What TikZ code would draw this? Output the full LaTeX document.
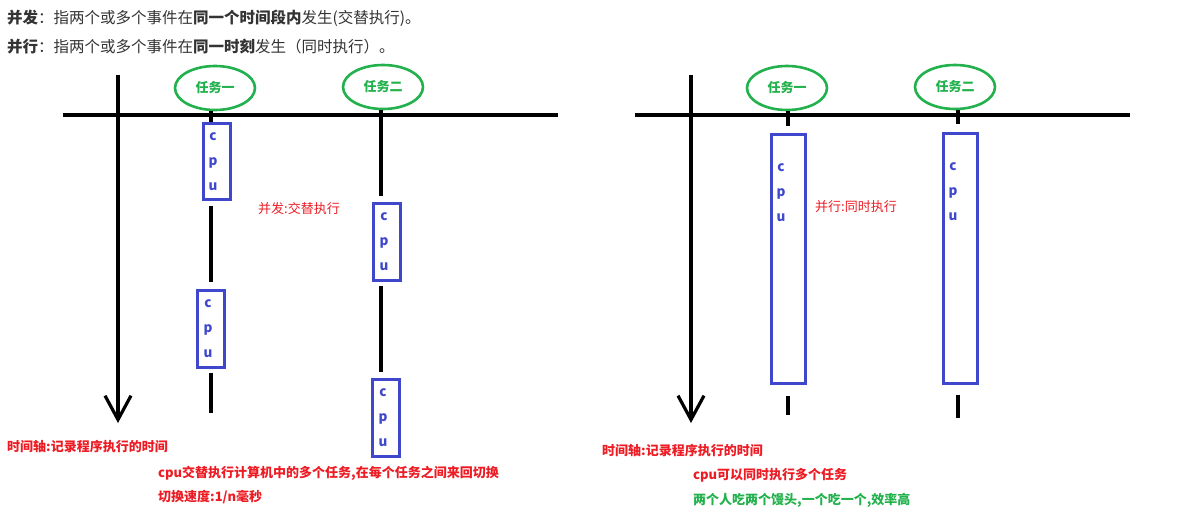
\documentclass[tikz,border=0pt]{standalone}
\usepackage{fontspec}
\setmainfont{Noto Sans CJK SC}
\usetikzlibrary{arrows.meta,shapes.geometric}

\definecolor{paintred}{HTML}{ED1C24}
\definecolor{paintgreen}{HTML}{22B14C}
\definecolor{paintblue}{HTML}{3F48CC}
\definecolor{headgray}{HTML}{333333}

\begin{document}
\begin{tikzpicture}[x=1pt,y=-1pt,
  axis/.style={line width=3.2pt,black},
  timearrow/.style={axis,-{Straight Barb[length=24pt,width=26pt]}},
  task/.style={ellipse,draw=paintgreen,line width=2.6pt,minimum width=80pt,minimum height=44pt,
    inner sep=0pt,text=paintgreen,font=\fontsize{13}{13}\selectfont\bfseries},
  cpubox/.style={draw=paintblue,line width=3pt,inner sep=0pt},
  cpu/.style={text=paintblue,font=\fontsize{13.5}{25}\selectfont\bfseries,align=center,inner sep=0pt},
  note/.style={anchor=west,inner sep=0pt,text=paintred,font=\fontsize{13}{13}\selectfont\bfseries},
  remark/.style={note,font=\fontsize{13}{13}\selectfont},
  head/.style={anchor=west,inner sep=0pt,text=headgray,font=\fontsize{15.5}{15.5}\selectfont},
]
\useasboundingbox (0,0) rectangle (1177,519);

% heading
\node[head] (h1) at (7,18) {\textbf{并发}：指两个或多个事件在\textbf{同一个时间段内}发生(交替执行)。};
\node[head] (h2) at (7,47) {\textbf{并行}：指两个或多个事件在\textbf{同一时刻}发生（同时执行）。};

%%%% left: concurrency
\coordinate (lw) at (63,115);
\coordinate (le) at (558,115);
\coordinate (lt) at (118,75);
\coordinate (lb) at (118,423);
\draw[axis] (lw) -- (le);
\draw[timearrow] (lt) -- (lb);

\node[task] (t1) at (215,88) {任务一};
\node[task] (t2) at (383,87) {任务二};

\node[cpubox,minimum width=27pt,minimum height=76pt] (b1) at (216.5,161) {};
\node[cpubox,minimum width=27pt,minimum height=77pt] (b2) at (210.5,328.5) {};
\node[cpubox,minimum width=27pt,minimum height=77pt] (b3) at (386.5,241.5) {};
\node[cpubox,minimum width=27pt,minimum height=77pt] (b4) at (385.5,417.5) {};
\node[cpu] (c1) at (213,162) {c\\p\\u};
\node[cpu] (c2) at (208,329) {c\\p\\u};
\node[cpu] (c3) at (384,242) {c\\p\\u};
\node[cpu] (c4) at (383,418) {c\\p\\u};

% task lines
\coordinate (l1) at (211,0);
\coordinate (l2) at (381,0);
\coordinate (e1) at (211,413);
\draw[axis] (t1.south -| l1) -- (b1.north -| l1);
\draw[axis,shorten <=5pt,shorten >=7pt] (b1.south -| l1) -- (b2.north -| l1);
\draw[axis,shorten <=4pt] (b2.south -| l1) -- (e1);
\draw[axis,shorten >=6pt] (t2.south -| l2) -- (b3.north -| l2);
\draw[axis,shorten <=4pt,shorten >=6pt] (b3.south -| l2) -- (b4.north -| l2);

\node[remark] (m1) at (258,209) {并发:交替执行};

\node[note] (n1) at (7,447) {时间轴:记录程序执行的时间};
\node[note] (n2) at (158,473) {cpu交替执行计算机中的多个任务,在每个任务之间来回切换};
\node[note] (n3) at (158,497) {切换速度:1/n毫秒};

%%%% right: parallelism
\coordinate (rw) at (635,115);
\coordinate (re) at (1130,115);
\coordinate (rt) at (691,75);
\coordinate (rb) at (691,423);
\draw[axis] (rw) -- (re);
\draw[timearrow] (rt) -- (rb);

\node[task] (s1) at (787,88) {任务一};
\node[task] (s2) at (955,87) {任务二};

\node[cpubox,minimum width=34pt,minimum height=249pt] (rb1) at (788,258.5) {};
\node[cpubox,minimum width=34pt,minimum height=250pt] (rb2) at (960,258) {};
\node[cpu] (d1) at (781,193) {c\\p\\u};
\node[cpu] (d2) at (953,192) {c\\p\\u};

\coordinate (r1) at (788,0);
\coordinate (r2) at (958,0);
\coordinate (f1) at (788,415);
\coordinate (f2) at (958,418);
\draw[axis,shorten >=7pt] (s1.south -| r1) -- (rb1.north -| r1);
\draw[axis,shorten >=8pt] (s2.south -| r2) -- (rb2.north -| r2);
\draw[axis,shorten <=11pt] (rb1.south -| r1) -- (f1);
\draw[axis,shorten <=10pt] (rb2.south -| r2) -- (f2);

\node[remark] (m2) at (815,207) {并行:同时执行};

\node[note] (n4) at (602,451) {时间轴:记录程序执行的时间};
\node[note] (n5) at (693,475) {cpu可以同时执行多个任务};
\node[note,text=paintgreen] (n6) at (693,500) {两个人吃两个馒头,一个吃一个,效率高};

\end{tikzpicture}
\end{document}
